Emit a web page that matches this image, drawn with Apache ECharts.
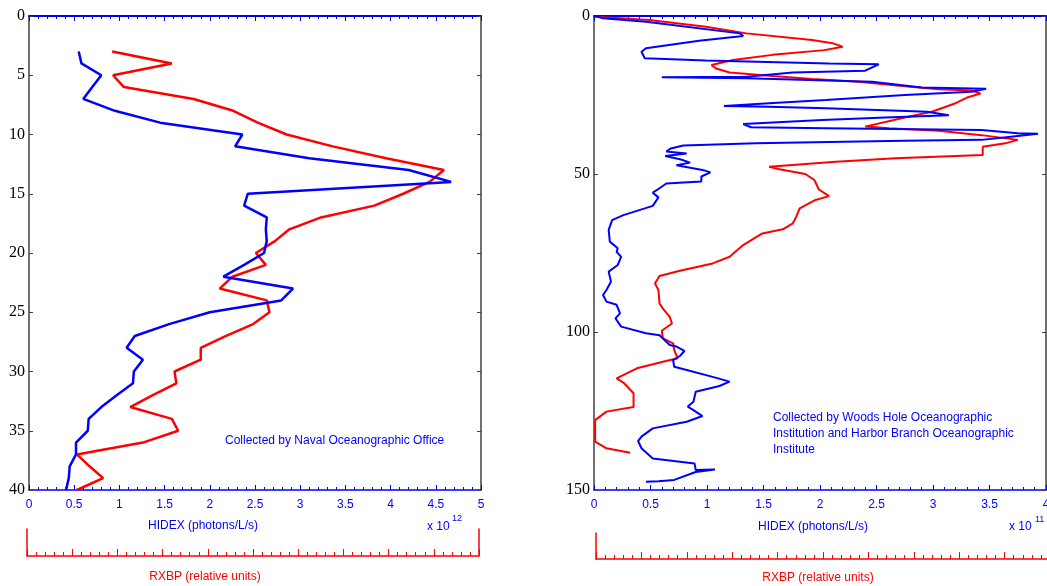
<!DOCTYPE html>
<html>
<head>
<meta charset="utf-8">
<script src="https://cdn.jsdelivr.net/npm/echarts@6/dist/echarts.min.js"></script>
<style>
  html, body { margin: 0; padding: 0; background: #fff; }
  #chart { width: 1047px; height: 586px; }
</style>
</head>
<body>
<div id="chart"></div>
<script>
// left panel: Naval Oceanographic Office profile (HIDEX x1e12)
const leftDepth = [3, 4, 5, 6, 7, 8, 9, 10, 11, 12, 13, 14, 15, 16, 17, 18, 19, 20, 21, 22,
  23, 24, 25, 26, 27, 28, 29, 30, 31, 32, 33, 34, 35, 36, 37, 38, 39, 40];
const leftHidex = [0.55, 0.58, 0.80, 0.70, 0.60, 0.95, 1.45, 2.36, 2.28, 3.10, 4.20, 4.67, 2.42, 2.38,
  2.63, 2.62, 2.63, 2.60, 2.38, 2.15, 2.92, 2.79, 2.00, 1.55, 1.17, 1.08, 1.26, 1.16, 1.15, 0.97,
  0.80, 0.66, 0.65, 0.52, 0.52, 0.45, 0.44, 0.41];
const leftRxbp = [0.92, 1.58, 0.93, 1.05, 1.82, 2.26, 2.53, 2.85, 3.36, 3.95, 4.59, 4.43, 4.14, 3.82,
  3.23, 2.88, 2.72, 2.51, 2.62, 2.25, 2.11, 2.63, 2.66, 2.48, 2.18, 1.90, 1.90, 1.61, 1.63, 1.37,
  1.12, 1.58, 1.65, 1.26, 0.53, 0.67, 0.82, 0.53];

// right panel: Woods Hole / Harbor Branch profile (HIDEX x1e11)
const rightHidexDepth = [0, 0.7, 1.8, 5.5, 6.3, 7.8, 10.2, 11.3, 13.4, 14.1, 15, 15.3, 17.3, 17.9, 19.2,
  19.4, 19.7, 20.8, 22.6, 23, 24, 25, 26.6, 27.6, 28.5, 28.7, 29.2, 30, 30.3, 31.4, 32.1, 32.9, 34.2,
  35.2, 35.5, 36.1, 37.1, 37.3, 38.2, 39.2, 39.5, 39.9, 40.3, 41, 41.9, 42.9, 43.5, 44.3, 45.4, 46.4,
  47.2, 48.7, 49.5, 50.8, 52.4, 53, 54.5, 55.9, 57.4, 60.1, 63, 64.6, 67.7, 71.4, 73.5, 74.6, 76.2,
  78.8, 80.9, 84.1, 86.7, 88.3, 90.4, 91.4, 94.1, 95.7, 98.3, 100.4, 101, 104.1, 104.6, 106, 107.6,
  108.9, 111, 112, 114.2, 115.7, 117.1, 118.9, 122.1, 123.6, 124.7, 126.6, 128.4, 130.5, 133.1, 134.5,
  136.8, 140, 141.6, 143.7, 143.5, 144.3, 146.8, 147.2, 147.4];
const rightHidex = [0.01, 0.08, 0.46, 1.29, 1.32, 0.93, 0.46, 0.42, 0.45, 0.99, 2.08, 2.52, 2.40, 1.76, 1.35,
  0.60, 1.35, 2.46, 2.90, 3.47, 3.34, 2.75, 2.05, 1.55, 1.15, 1.55, 2.05, 2.70, 2.95, 3.14, 2.58, 2.02, 1.32,
  1.39, 2.05, 3.43, 3.75, 3.93, 3.69, 3.43, 2.75, 2.08, 1.43, 0.79, 0.68, 0.64, 0.82, 0.63, 0.77, 0.85,
  0.73, 0.96, 1.03, 0.95, 0.95, 0.64, 0.58, 0.52, 0.57, 0.52, 0.26, 0.16, 0.13, 0.14, 0.21, 0.20, 0.24,
  0.21, 0.13, 0.15, 0.11, 0.08, 0.11, 0.20, 0.23, 0.19, 0.24, 0.46, 0.58, 0.67, 0.73, 0.80, 0.76,
  0.70, 0.71, 0.82, 1.05, 1.20, 1.11, 0.90, 0.88, 0.83, 0.88, 0.96, 0.82, 0.52, 0.42, 0.39,
  0.42, 0.52, 0.89, 0.90, 1.07, 0.90, 0.71, 0.57, 0.46];
const rightRxbpDepth = [0.2, 1.3, 3.4, 5.5, 7.6, 8.6, 9.7, 10.8, 12.3, 13.9, 15.5, 16.6, 17.9, 19, 19.9,
  20.8, 22.2, 23.2, 23.6, 24.5, 25.7, 27.6, 30.3, 32.1, 35, 35.5, 36.3, 37.7, 39.2, 40.3, 41.4, 44, 45,
  46.1, 47.7, 48.5, 50, 51.9, 54.9, 57, 58.2, 60.9, 63.5, 65.6, 67.5, 68.8, 72.5, 76.2, 78.3, 80.6,
  82.3, 84.6, 86.7, 91, 92.6, 95.2, 97.3, 99.6, 102, 103.6, 105.7, 108.3, 109.4, 111.5, 114.7, 116,
  119.4, 123.7, 125.2, 127.9, 134.7, 136.8, 138.2];
const rightRxbp = [0.01, 0.49, 0.99, 1.35, 1.93, 2.11, 2.20, 2.04, 1.58, 1.23, 1.04, 1.08, 1.20, 1.58, 1.93,
  2.34, 2.75, 3.05, 3.34, 3.42, 3.31, 3.20, 2.99, 2.75, 2.40, 2.61, 3.05, 3.43, 3.75, 3.64, 3.44, 3.44, 2.67,
  2.14, 1.55, 1.64, 1.87, 1.95, 1.99, 2.08, 1.96, 1.82, 1.79, 1.76, 1.67, 1.49, 1.32, 1.20, 1.05, 0.76,
  0.58, 0.54, 0.57, 0.58, 0.61, 0.67, 0.69, 0.60, 0.61, 0.70, 0.71, 0.74, 0.61, 0.38, 0.20, 0.26,
  0.35, 0.35, 0.11, 0.01, 0.01, 0.11, 0.32];

const leftDepthTicks = [0, 40, 5];
const rightDepthTicks = [0, 150, 50];

const BLUE = '#0000ff';
const RED = '#ff0000';
const FRAME = '#404040';
const sans = 'Liberation Sans, Arial, sans-serif';
const serif = 'Liberation Serif, Times New Roman, serif';

const pairs = (xs, ys) => xs.map((x, i) => [x, ys[i]]);
const fmt = v => String(+v.toFixed(1));

function hidexAxis(grid, max, pos, labels) {
  return {
    type: 'value', gridIndex: grid, position: pos, min: 0, max: max, interval: 0.5,
    axisLine: { onZero: false, lineStyle: { color: BLUE, width: pos === 'top' ? 2 : 1.5 } },
    axisTick: { inside: true, length: 5, lineStyle: { color: BLUE } },
    minorTick: { show: true, splitNumber: 5, length: 3, lineStyle: { color: BLUE } },
    axisLabel: { show: labels, color: BLUE, fontSize: 12, fontFamily: sans, margin: 9, formatter: fmt,
      hideOverlap: false, showMinLabel: true, showMaxLabel: true },
    splitLine: { show: false }
  };
}
function depthAxis(grid, ticks, pos, labels) {
  return {
    type: 'value', gridIndex: grid, position: pos, inverse: true,
    min: ticks[0], max: ticks[1], interval: ticks[2],
    axisLine: { onZero: false, lineStyle: { color: FRAME, width: 1.5 } },
    axisTick: { inside: true, length: 4, lineStyle: { color: FRAME } },
    axisLabel: { show: labels, color: '#000', fontSize: 16, fontFamily: serif, margin: 4 },
    splitLine: { show: false }
  };
}
function rxbpAxis(grid) {
  return {
    type: 'value', gridIndex: grid, position: 'bottom', min: 0, max: 10, interval: 1,
    axisLine: { onZero: false, lineStyle: { color: RED, width: 1.5 } },
    axisTick: { inside: true, length: 7, lineStyle: { color: RED } },
    minorTick: { show: true, splitNumber: 5, length: 4, lineStyle: { color: RED } },
    axisLabel: { show: false }, splitLine: { show: false }
  };
}
function bracketSide(grid, pos) {
  return {
    type: 'value', gridIndex: grid, position: pos, min: 0, max: 1,
    axisLine: { show: true, onZero: false, lineStyle: { color: RED, width: 1.5 } },
    axisTick: { show: false }, axisLabel: { show: false }, splitLine: { show: false }
  };
}
function line(name, xi, yi, data, color, width) {
  return {
    name: name, type: 'line', xAxisIndex: xi, yAxisIndex: yi, data: data,
    symbol: 'none', silent: true, animation: false,
    lineStyle: { color: color, width: width }
  };
}
function label(x, y, text, color, size, align) {
  return {
    type: 'text', x: x, y: y, silent: true,
    style: { text: text, fill: color, font: size + 'px ' + sans, align: align || 'center', verticalAlign: 'middle' }
  };
}
function grid(left, top, width, height) {
  return { left: left, top: top, width: width, height: height, containLabel: false, outerBoundsMode: 'none' };
}

const chart = echarts.init(document.getElementById('chart'));
chart.setOption({
  backgroundColor: '#fff',
  animation: false,
  grid: [
    grid(29, 16, 452, 474),
    grid(594, 16, 452, 474),
    grid(27, 529, 452, 27),
    grid(596, 533, 454, 26)
  ],
  xAxis: [
    hidexAxis(0, 5, 'bottom', true),   // 0
    hidexAxis(0, 5, 'top', false),     // 1
    hidexAxis(1, 4, 'bottom', true),   // 2
    hidexAxis(1, 4, 'top', false),     // 3
    rxbpAxis(2),                       // 4
    rxbpAxis(3)                        // 5
  ],
  yAxis: [
    depthAxis(0, leftDepthTicks, 'left', true),
    depthAxis(0, leftDepthTicks, 'right', false),
    depthAxis(1, rightDepthTicks, 'left', true),
    depthAxis(1, rightDepthTicks, 'right', false),
    bracketSide(2, 'left'),
    bracketSide(2, 'right'),
    bracketSide(3, 'left'),
    bracketSide(3, 'right')
  ],
  series: [
    line('RXBP', 0, 0, pairs(leftRxbp, leftDepth), RED, 2.5),
    line('HIDEX', 0, 0, pairs(leftHidex, leftDepth), BLUE, 2.5),
    line('RXBP', 2, 2, pairs(rightRxbp, rightRxbpDepth), RED, 2),
    line('HIDEX', 2, 2, pairs(rightHidex, rightHidexDepth), BLUE, 2)
  ],
  graphic: [
    label(203, 526, 'HIDEX (photons/L/s)', BLUE, 12),
    label(427, 527, 'x 10', BLUE, 12, 'left'),
    label(452, 519, '12', BLUE, 9, 'left'),
    label(205, 577, 'RXBP (relative units)', RED, 12),
    label(225, 441, 'Collected by Naval Oceanographic Office', BLUE, 12, 'left'),
    label(813, 527, 'HIDEX (photons/L/s)', BLUE, 12),
    label(1009, 527, 'x 10', BLUE, 12, 'left'),
    label(1035, 520, '11', BLUE, 9, 'left'),
    label(818, 578, 'RXBP (relative units)', RED, 12),
    label(773, 418, 'Collected by Woods Hole Oceanographic', BLUE, 12, 'left'),
    label(773, 434, 'Institution and Harbor Branch Oceanographic', BLUE, 12, 'left'),
    label(773, 450, 'Institute', BLUE, 12, 'left')
  ]
});
</script>
</body>
</html>
